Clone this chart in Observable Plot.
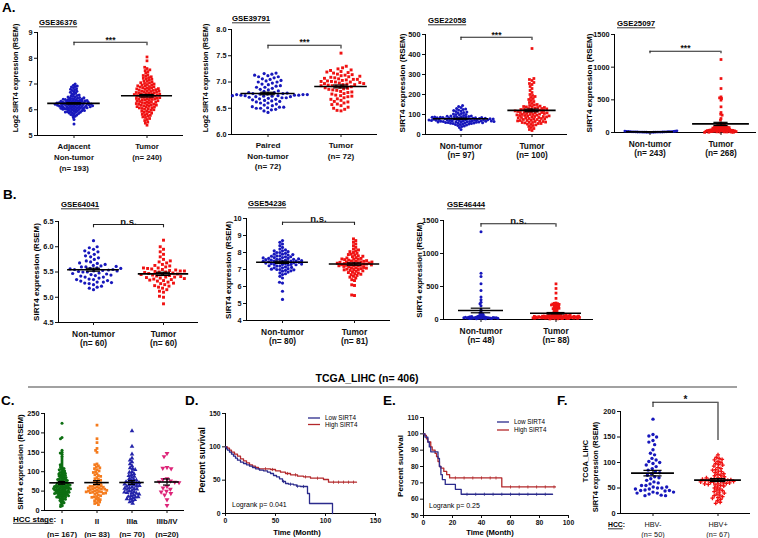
<!DOCTYPE html>
<html><head><meta charset="utf-8">
<script src="https://cdn.jsdelivr.net/npm/d3@7"></script>
<script src="https://cdn.jsdelivr.net/npm/@observablehq/plot@0.6"></script>
<style>
html,body{margin:0;padding:0;background:#fff;}
#fig{position:relative;width:758px;height:538px;overflow:hidden;background:#fff;}
</style></head><body><div id="fig"></div>
<script>
// ---------------- DATA ----------------
// A. GSE36376
const cats36376 = ["Adjacent\nNon-tumor\n(n= 193)", "Tumor\n(n= 240)"];
const ticks36376 = [5, 6, 7, 8, 9];
const gse36376N = [5.45,5.62,5.7,5.75,5.78,5.8,5.82,5.84,5.85,5.87,5.88,5.9,5.9,5.92,5.93,5.95,5.95,5.96,5.98,6.0,6.0,6.01,6.02,6.03,6.04,6.05,6.05,6.06,6.07,6.08,6.09,6.1,6.1,6.11,6.12,6.12,6.13,6.14,6.15,6.15,6.16,6.17,6.18,6.18,6.19,6.2,6.2,6.21,6.22,6.22,6.23,6.24,6.25,6.25,6.26,6.27,6.28,6.28,6.29,6.3,6.3,6.31,6.32,6.33,6.34,6.35,6.35,6.36,6.37,6.38,6.39,6.4,6.4,6.42,6.43,6.44,6.45,6.46,6.48,6.5,6.5,6.52,6.54,6.55,6.57,6.6,6.62,6.65,6.68,6.7,6.72,6.75,6.78,6.8,6.82,6.85,6.88,6.9,6.92,6.95,7.0,6.02,6.08,6.14,6.19,6.24,6.29,6.33,6.12,6.17,6.22,6.27,6.06,6.36,6.41,5.97,5.91,6.47,6.26,6.21,6.16];
const gse36376T = [5.4,5.48,5.52,5.58,5.62,5.66,5.7,5.72,5.75,5.78,5.8,5.82,5.85,5.87,5.9,5.92,5.94,5.96,5.98,6.0,6.02,6.04,6.05,6.07,6.08,6.1,6.11,6.12,6.14,6.15,6.17,6.18,6.19,6.2,6.21,6.22,6.24,6.25,6.26,6.28,6.29,6.3,6.31,6.32,6.34,6.35,6.36,6.38,6.39,6.4,6.41,6.42,6.43,6.44,6.45,6.46,6.47,6.48,6.5,6.51,6.52,6.53,6.54,6.55,6.56,6.57,6.58,6.59,6.6,6.61,6.62,6.63,6.64,6.65,6.66,6.67,6.68,6.7,6.71,6.72,6.73,6.74,6.75,6.76,6.78,6.79,6.8,6.81,6.82,6.84,6.85,6.86,6.88,6.89,6.9,6.92,6.93,6.95,6.96,6.98,7.0,7.02,7.04,7.05,7.07,7.1,7.12,7.15,7.18,7.2,7.22,7.25,7.28,7.3,7.33,7.36,7.42,7.48,7.52,7.55,7.6,7.65,7.9,8.05];
// A. GSE39791
const cats39791 = ["Paired\nNon-tumor\n(n= 72)", "Tumor\n(n= 72)"];
const ticks39791 = [6.0, 6.5, 7.0, 7.5, 8.0];
const gse39791N = [6.42,6.45,6.47,6.48,6.5,6.5,6.51,6.52,6.52,6.53,6.55,6.56,6.58,6.6,6.6,6.62,6.63,6.64,6.65,6.66,6.67,6.68,6.69,6.7,6.7,6.71,6.72,6.72,6.73,6.73,6.74,6.74,6.75,6.75,6.75,6.76,6.76,6.77,6.77,6.78,6.78,6.79,6.8,6.8,6.82,6.83,6.85,6.86,6.88,6.9,6.9,6.92,6.93,6.95,6.96,6.98,7.0,7.0,7.02,7.03,7.05,7.06,7.08,7.1,7.1,7.12,7.13,7.15,7.16,7.17,6.74,6.76];
const gse39791T = [6.45,6.46,6.48,6.5,6.52,6.55,6.58,6.6,6.62,6.65,6.68,6.7,6.72,6.74,6.75,6.77,6.78,6.8,6.82,6.84,6.85,6.87,6.88,6.9,6.91,6.92,6.93,6.94,6.95,6.95,6.96,6.97,6.98,7.0,7.0,7.01,7.02,7.03,7.04,7.05,7.05,7.06,7.07,7.08,7.1,7.12,7.13,7.15,7.17,7.18,7.2,7.22,7.25,7.27,7.3,7.55,6.86,6.89,6.99,7.01,7.09,6.63,6.73,6.57,7.11,6.93,7.14,6.81,6.97,7.19,6.67,7.23];
// A. GSE22058
const cats22058 = ["Non-tumor\n(n= 97)", "Tumor\n(n= 100)"];
const ticks22058 = [0, 100, 200, 300, 400, 500];
const gse22058N = [25,35,40,42,45,48,50,50,52,53,55,55,56,57,58,58,60,60,61,62,62,63,64,65,65,66,67,68,68,69,70,70,71,72,72,73,74,75,75,76,77,78,78,79,80,80,81,82,82,83,84,85,85,86,87,88,89,90,90,92,93,95,97,100,100,102,105,108,110,112,115,118,120,122,125,128,130,135,140,145,59,63,66,71,74,76,79,81,84,86,88,91,70,68,73,77,65];
const gse22058T = [20,25,30,35,40,45,48,50,52,55,58,60,62,65,67,70,72,75,77,80,82,85,87,90,92,95,97,100,100,102,105,107,110,110,112,115,117,120,120,122,125,127,130,132,135,138,140,142,145,148,150,155,160,165,170,175,180,185,190,195,200,210,220,230,240,250,255,260,270,275,280,430,55,60,65,70,75,80,85,90,95,100,105,110,115,120,125,130,135,140,62,78,88,98,108,118,128,68,83,93];
// A. GSE25097
const cats25097 = ["Non-tumor\n(n= 243)", "Tumor\n(n= 268)"];
const ticks25097 = [0, 500, 1000, 1500];
const gse25097N = [2,3,3,4,4,5,5,5,6,6,7,7,7,8,8,9,9,10,10,11,12,12,13,14,15,16,18,20,22,25];
const gse25097T = [1117,826,673,545,530,520,495,393,306,280,265,214,189,138,135,132,130,125,110,100,95,92,90,88,85,82,80,78,75,72,70,68,65,60,58,55,52,50,48,46,45,44,42,40,38,36,35,34,32,30,28,27,26,25,24,22,20,19,18,16,15,14,12,10,9,8,6,5,4,3,2];
// B. GSE64041
const cats64041 = ["Non-tumor\n(n= 60)", "Tumor\n(n= 60)"];
const ticks64041 = [4.5, 5.0, 5.5, 6.0, 6.5];
const gse64041N = [5.15,5.18,5.2,5.22,5.25,5.27,5.28,5.3,5.3,5.32,5.33,5.35,5.36,5.38,5.4,5.4,5.42,5.43,5.45,5.46,5.48,5.5,5.5,5.51,5.52,5.53,5.54,5.55,5.55,5.56,5.57,5.58,5.6,5.6,5.62,5.63,5.65,5.67,5.7,5.72,5.75,5.78,5.8,5.85,5.88,5.9,5.92,5.95,5.98,6.0,6.12,5.44,5.47,5.52,5.57,5.61,5.35,5.29,5.82,5.68];
const gse64041T = [4.87,5.0,5.02,5.1,5.12,5.15,5.18,5.2,5.22,5.25,5.27,5.3,5.32,5.33,5.35,5.36,5.38,5.4,5.4,5.42,5.43,5.44,5.45,5.46,5.47,5.48,5.5,5.5,5.51,5.52,5.53,5.54,5.55,5.56,5.57,5.58,5.6,5.62,5.65,5.68,5.7,5.72,5.75,5.8,5.85,5.9,5.95,6.0,6.13,5.41,5.49,5.34,5.28,5.39,5.52,5.58,5.45,5.37,5.63,5.23];
// B. GSE54236
const cats54236 = ["Non-tumor\n(n= 80)", "Tumor\n(n= 81)"];
const ticks54236 = [4, 5, 6, 7, 8, 9, 10];
const gse54236N = [5.24,5.72,6.2,6.25,6.5,6.6,6.7,6.75,6.8,6.85,6.9,6.95,7.0,7.0,7.05,7.1,7.1,7.15,7.2,7.2,7.25,7.3,7.3,7.3,7.35,7.35,7.4,7.4,7.4,7.45,7.45,7.5,7.5,7.5,7.5,7.55,7.55,7.6,7.6,7.6,7.65,7.65,7.7,7.7,7.75,7.75,7.8,7.8,7.85,7.9,7.9,7.95,8.0,8.0,8.05,8.1,8.1,8.2,8.3,8.4,8.5,8.6,8.7,7.42,7.38,7.48,7.52,7.32,7.28,7.58,7.62,7.22,7.12,7.02,6.92,7.68,7.78,7.88,8.15,6.98];
const gse54236T = [5.47,5.5,6.06,6.1,6.35,6.4,6.5,6.6,6.65,6.7,6.75,6.8,6.85,6.9,6.95,7.0,7.0,7.05,7.1,7.1,7.15,7.2,7.2,7.25,7.25,7.3,7.3,7.3,7.35,7.35,7.4,7.4,7.45,7.45,7.5,7.5,7.55,7.6,7.6,7.65,7.7,7.75,7.8,7.85,7.9,7.95,8.0,8.05,8.1,8.2,8.3,8.4,8.5,8.6,8.7,8.8,7.32,7.28,7.38,7.22,7.42,7.18,7.12,7.48,7.02,6.92,7.58,7.68,6.82,7.08,7.52,7.27,7.37,6.72,7.78,7.88,8.15,6.55,6.98,7.62,7.44];
// B. GSE46444
const cats46444 = ["Non-tumor\n(n= 48)", "Tumor\n(n= 88)"];
const ticks46444 = [0, 500, 1000, 1500];
const gse46444N = [1330,700,650,540,440,340,300,260,240,210,150,120,100,90,80,70,60,55,50,45,40,38,35,32,30,28,26,25,24,22,20,20,18,16,15,14,12,10,30,40,35,25,22,28,33,18,27,45];
const gse46444T = [540,470,400,320,250,245,240,235,230,225,220,215,210,200,190,180,175,170,165,160,150,140,130,120,110,100,95,90,85,80,75,70,65,60,55,50,48,45,42,40,38,36,34,32,30,28,26,25,24,22,20,18,16,15,14,12,10,8,30,35,40,45,50,55,60,25,28,33,38,43,48,53,58,63,68,22,27,32,37,42,47,52,57,62,20,18,26,31];
// C. TCGA by stage
const catsStage = ["I\n(n= 167)", "II\n(n= 83)", "IIIa\n(n= 70)", "IIIb/IV\n(n=20)"];
const ticksStage = [0, 50, 100, 150, 200, 250];
const stageI = [225,188,185,155,150,148,145,140,135,130,125,120,118,115,112,110,108,106,105,104,102,100,98,98,96,95,94,92,91,91,89,88,86,86,85,83,82,81,80,80,78,77,77,75,74,73,73,71,70,70,69,67,66,66,64,63,62,62,60,59,58,58,56,55,55,53,52,51,50,50,48,47,46,45,45,43,42,41,40,40,38,37,36,35,34,33,31,30,29,28,26,24,22,20,18,15,12,10,45,48,50,52,55,58,60,62,65,68,42,47,53,57,63,35,38,44,56,66];
const stageII = [220,185,175,160,155,150,120,118,115,112,110,108,105,102,100,98,95,92,90,88,85,82,80,78,76,74,72,70,68,66,65,64,62,60,58,57,56,55,54,52,50,49,48,47,46,45,44,42,40,38,36,35,34,32,30,28,26,25,22,20,18,15,60,55,50,45,62,58,52,48];
const stageIIIa = [205,165,145,135,130,125,120,115,110,108,105,100,98,95,92,90,88,85,82,80,78,76,75,74,72,70,68,66,65,63,62,60,58,56,55,54,52,50,48,46,45,44,42,40,38,36,35,33,30,28,25,22,18,72,68,64,57,47,30,35];
const stageIIIbIV = [147,139,111,109,108,82,80,76,74,73,72,62,58,55,50,48,44,40,28,13];
// D. overall survival (months, percent)
const kmDLow = [[0,100],[1,97],[2,95],[4,92],[6,89],[8,86],[10,83],[12,80],[15,77],[18,75],[21,73],[24,71],[27,69],[30,67],[34,65],[38,64],[42,62],[45,60],[48,57],[51,55],[54,52],[57,48],[60,45],[63,44],[68,43],[71,41],[75,40.5],[82,30],[84,15],[107,0]];
const kmDHigh = [[0,100],[2,98],[4,95],[6,92],[9,89],[12,86],[15,82],[18,79],[21,76],[24,73],[27,71],[30,69],[33,67],[45,66],[50,64],[55,62],[60,60],[65,58],[72,56],[78,55],[85,53],[98,51],[103,47],[131,47]];
const censDLow = [[58,48],[65,44],[72,41],[78,40.5]];
const censDHigh = [[40,67],[47,66],[62,60],[70,58],[80,55],[92,53],[108,47],[113,47],[118,47],[123,47],[128,47]];
const ticksDx = [0, 50, 100, 150], ticksDy = [0, 50, 100, 150];
// E. survival
const kmELow = [[0,100],[1,98],[3,95],[4,92],[5,89],[10,85],[11,80],[12,75],[13,72],[15,69],[22,66],[26,63],[89,63]];
const kmEHigh = [[0,100],[1,99],[2,97],[3,95],[5,92],[6,90],[8,88],[9,86],[10,83],[11,80],[12,79],[14,77],[16,75],[18,73],[54,67.5],[91,67.5]];
const censELow = [[30,63],[36,63],[42,63],[48,63],[54,63],[60,63],[66,63],[72,63],[78,63],[84,63]];
const censEHigh = [[22,73],[28,73],[34,73],[40,73],[46,73],[50,73],[60,67.5],[66,67.5],[72,67.5],[78,67.5],[84,67.5],[90,67.5]];
const ticksEx = [0, 20, 40, 60, 80, 100], ticksEy = [50, 60, 70, 80, 90, 100, 110];
// F. HBV
const catsHBV = ["HBV-\n(n= 50)", "HBV+\n(n= 67)"];
const ticksHBV = [0, 50, 100, 150, 200];
const hbvNeg = [185,155,152,150,143,140,135,125,118,115,108,105,102,100,98,95,92,88,85,82,80,78,75,72,70,68,65,62,60,58,55,52,50,50,48,46,45,44,42,40,40,38,36,35,35,52,48,55,45,42];
const hbvPos = [115,110,108,106,105,102,100,98,96,95,93,90,88,86,85,83,82,80,78,77,75,74,72,70,69,68,67,66,65,64,63,62,61,60,59,58,57,56,55,54,52,50,48,46,45,43,42,40,38,36,35,33,31,30,28,25,22,20,65,66,64,63,67,62,70,60,58];

// ---------------- STYLE ----------------
const FONT = '"Liberation Sans", Arial, Helvetica, sans-serif';
const BLUE = "#1717bc", RED = "#f01212", GREEN = "#0d6f12", ORANGE = "#f57b1d", BLUE2 = "#2424aa", PINK = "#dd2478";
const LOWC = "#2b2b8c", HIGHC = "#b3282b";
const TRI_DOWN = {draw(ctx, size) { const s = Math.sqrt(size * 4 / Math.sqrt(3)); const h = s * Math.sqrt(3) / 2; ctx.moveTo(-s/2, -h/3); ctx.lineTo(s/2, -h/3); ctx.lineTo(0, 2*h/3); ctx.closePath(); }};
const VTICK = {draw(ctx, size) { const h = Math.sqrt(size / Math.PI); ctx.moveTo(0, -h); ctx.lineTo(0, h); }};

const fig = document.getElementById("fig");
function place(el, x, y) {
  el.style.position = "absolute"; el.style.left = x + "px"; el.style.top = y + "px";
  el.style.maxWidth = "none"; el.style.background = "none"; el.style.overflow = "visible";
  fig.appendChild(el);
}

function dotPanel(p) {
  const ml = 34, mr = 6, mt = 24, mb = 44;
  const W = p.box.R - p.box.L + ml + mr, H = p.box.B - p.box.T + mt + mb;
  const labels = p.groups.map(g => g.label);
  const marks = [
    Plot.ruleY([p.y[0]], {y: d => d, stroke: "#000", strokeWidth: 1}),
    Plot.ruleX([0], {fx: () => labels[0], x: d => d, stroke: "#000", strokeWidth: 1})
  ];
  for (const g of p.groups) {
    marks.push(Plot.dot(g.values, Plot.dodgeX({anchor: "middle", padding: g.pad},
      {fx: () => g.label, y: d => d, r: g.r, fill: g.color, symbol: g.symbol || "circle"})));
  }
  for (const g of p.groups) {
    const fx = () => g.label;
    const m = d3.mean(g.values), s = d3.deviation(g.values) / Math.sqrt(g.values.length);
    marks.push(
      Plot.ruleY([m], {fx, y: d => d, x1: 0.5 - g.mw, x2: 0.5 + g.mw, stroke: "#000", strokeWidth: 1.6}),
      Plot.ruleX([0.5], {fx, x: d => d, y1: m - s, y2: m + s, stroke: "#000", strokeWidth: 1.2}),
      Plot.ruleY([m - s, m + s], {fx, y: d => d, x1: 0.5 - g.cw, x2: 0.5 + g.cw, stroke: "#000", strokeWidth: 1.2})
    );
  }
  if (p.sig) {
    const a = labels[0], b = labels[1], S = p.sig;
    const st = {stroke: "#222", strokeWidth: 1.1};
    marks.push(
      Plot.ruleY([S.y], {fx: () => a, y: d => d, x1: 0.5, x2: 1, ...st}),
      Plot.ruleY([S.y], {fx: () => b, y: d => d, x1: 0, x2: 0.5, ...st}),
      Plot.ruleX([0.5], {fx: () => a, x: d => d, y1: S.y, y2: S.l, ...st}),
      Plot.ruleX([0.5], {fx: () => b, x: d => d, y1: S.y, y2: S.r, ...st}),
      Plot.text([S.text], {fx: () => a, x: 1, y: S.y, text: d => d, lineAnchor: S.anchor, dy: S.dy, fontSize: S.size, fontWeight: "bold"})
    );
  }
  marks.push(Plot.axisFx({anchor: "bottom", label: null, tickSize: 3, tickPadding: p.tickPad,
    fontSize: p.catSize, lineHeight: p.lh, fontWeight: p.catWeight || "bold"}));
  const svg = Plot.plot({
    width: W, height: H, marginLeft: ml, marginRight: mr, marginTop: mt, marginBottom: mb,
    style: {fontFamily: FONT, fontWeight: "bold", fontSize: (p.tickSize || 7.3) + "px", color: "#111", background: "none", overflow: "visible"},
    fx: {domain: labels, padding: 0},
    x: {domain: [0, 1], axis: null},
    y: {domain: p.y, ticks: p.ticks, tickSize: 3, tickPadding: 2, tickFormat: p.fmt, label: null},
    marks
  });
  place(svg, p.box.L - ml, p.box.T - mt);
}

function kmPanel(p) {
  const ml = 30, mr = 12, mt = 10, mb = 22;
  const W = p.box.R - p.box.L + ml + mr, H = p.box.B - p.box.T + mt + mb;
  const svg = Plot.plot({
    width: W, height: H, marginLeft: ml, marginRight: mr, marginTop: mt, marginBottom: mb,
    style: {fontFamily: FONT, fontWeight: "bold", fontSize: "6.8px", color: "#111", background: "none", overflow: "visible"},
    x: {domain: p.x, ticks: p.xt, tickSize: 3, tickPadding: 2, label: null},
    y: {domain: p.y, ticks: p.yt, tickSize: 3, tickPadding: 2, label: null},
    marks: [
      Plot.ruleX([p.x[0]], {x: d => d, stroke: "#000"}),
      Plot.ruleY([p.y[0]], {y: d => d, stroke: "#000"}),
      Plot.line(p.high, {x: d => d[0], y: d => d[1], curve: "step-after", stroke: HIGHC, strokeWidth: 1.3}),
      Plot.line(p.low, {x: d => d[0], y: d => d[1], curve: "step-after", stroke: LOWC, strokeWidth: 1.3}),
      Plot.dot(p.highC, {x: d => d[0], y: d => d[1], symbol: VTICK, r: 1.6, stroke: HIGHC, fill: "none", strokeWidth: 0.8}),
      Plot.dot(p.lowC, {x: d => d[0], y: d => d[1], symbol: VTICK, r: 1.6, stroke: LOWC, fill: "none", strokeWidth: 0.8})
    ]
  });
  place(svg, p.box.L - ml, p.box.T - mt);
}

const f1 = d3.format(".1f"), f0 = d3.format("d");

// ----- Row A -----
dotPanel({box: {L: 37, T: 32, R: 183, B: 135}, y: [5, 9], ticks: ticks36376, fmt: f0, tickPad: 3, catSize: 7.8, lh: 1.4,
  groups: [
    {label: cats36376[0], values: gse36376N, color: BLUE, r: 1.5, pad: -0.85, mw: 0.36, cw: 0.1},
    {label: cats36376[1], values: gse36376T, color: RED, symbol: "square", r: 1.55, pad: -0.45, mw: 0.35, cw: 0.1}],
  sig: {text: "***", y: 8.62, l: 8.49, r: 8.49, size: 8.5, anchor: "middle", dy: -2.5}});
dotPanel({box: {L: 230, T: 29, R: 377, B: 134}, y: [6, 8], ticks: ticks39791, fmt: f1, tickPad: 3, catSize: 8.1, lh: 1.3,
  groups: [
    {label: cats39791[0], values: gse39791N, color: BLUE, r: 1.6, pad: 1.1, mw: 0.37, cw: 0.1},
    {label: cats39791[1], values: gse39791T, color: RED, symbol: "square", r: 1.65, pad: 0.7, mw: 0.36, cw: 0.1}],
  sig: {text: "***", y: 7.70, l: 7.63, r: 7.63, size: 8.5, anchor: "middle", dy: -2.5}});
dotPanel({box: {L: 424, T: 34, R: 567, B: 134}, y: [0, 500], ticks: ticks22058, fmt: f0, tickPad: 5, catSize: 8.3, lh: 1.12,
  groups: [
    {label: cats22058[0], values: gse22058N, color: BLUE, r: 1.5, pad: -0.45, mw: 0.39, cw: 0.1},
    {label: cats22058[1], values: gse22058T, color: RED, symbol: "square", r: 1.55, pad: -0.35, mw: 0.34, cw: 0.1}],
  sig: {text: "***", y: 486, l: 470, r: 470, size: 8.5, anchor: "middle", dy: -2.5}});
dotPanel({box: {L: 613, T: 34, R: 756, B: 132}, y: [0, 1500], ticks: ticks25097, fmt: f0, tickPad: 5, catSize: 8.3, lh: 1.1,
  groups: [
    {label: cats25097[0], values: gse25097N, color: BLUE, r: 1.4, pad: -1.0, mw: 0.33, cw: 0.1},
    {label: cats25097[1], values: gse25097T, color: RED, symbol: "square", r: 1.55, pad: -1.38, mw: 0.4, cw: 0.1}],
  sig: {text: "***", y: 1244, l: 1204, r: 1204, size: 8.5, anchor: "middle", dy: -2.5}});

// ----- Row B -----
dotPanel({box: {L: 58, T: 221, R: 198, B: 322}, y: [4.5, 6.5], ticks: ticks64041, fmt: f1, tickPad: 5, catSize: 8.4, lh: 1.05,
  groups: [
    {label: cats64041[0], values: gse64041N, color: BLUE, r: 1.6, pad: 1.25, mw: 0.37, cw: 0.1},
    {label: cats64041[1], values: gse64041T, color: RED, symbol: "square", r: 1.65, pad: 0.85, mw: 0.36, cw: 0.1}],
  sig: {text: "n.s.", y: 6.44, l: 6.375, r: 6.375, size: 9.5, anchor: "bottom", dy: 0}});
dotPanel({box: {L: 246, T: 218, R: 390, B: 320}, y: [4, 10], ticks: ticks54236, fmt: f0, tickPad: 5, catSize: 8.4, lh: 1.05,
  groups: [
    {label: cats54236[0], values: gse54236N, color: BLUE, r: 1.6, pad: -0.1, mw: 0.36, cw: 0.1},
    {label: cats54236[1], values: gse54236T, color: RED, symbol: "square", r: 1.65, pad: -0.45, mw: 0.35, cw: 0.1}],
  sig: {text: "n.s.", y: 9.78, l: 9.59, r: 9.59, size: 9.5, anchor: "bottom", dy: 0}});
dotPanel({box: {L: 442, T: 220, R: 593, B: 319}, y: [0, 1500], ticks: ticks46444, fmt: f0, tickPad: 5, catSize: 8.4, lh: 1.05,
  groups: [
    {label: cats46444[0], values: gse46444N, color: BLUE, r: 1.5, pad: -1.32, mw: 0.3, cw: 0.13},
    {label: cats46444[1], values: gse46444T, color: RED, symbol: "square", r: 1.55, pad: -1.42, mw: 0.34, cw: 0.12}],
  sig: {text: "n.s.", y: 1450, l: 1399, r: 1399, size: 9.5, anchor: "bottom", dy: 0}});

// ----- Row C-F -----
dotPanel({box: {L: 43, T: 413, R: 185, B: 510}, y: [0, 250], ticks: ticksStage, fmt: f0, tickPad: 2, catSize: 7.9, lh: 1.6,
  groups: [
    {label: catsStage[0], values: stageI, color: GREEN, r: 1.5, pad: -1.08, mw: 0.35, cw: 0.1},
    {label: catsStage[1], values: stageII, color: ORANGE, symbol: "square", r: 1.55, pad: -0.7, mw: 0.35, cw: 0.1},
    {label: catsStage[2], values: stageIIIa, color: BLUE2, symbol: "triangle", r: 1.7, pad: -0.66, mw: 0.35, cw: 0.1},
    {label: catsStage[3], values: stageIIIbIV, color: PINK, symbol: TRI_DOWN, r: 1.8, pad: 0.7, mw: 0.35, cw: 0.1}]});
kmPanel({box: {L: 225, T: 413, R: 375, B: 513}, x: [0, 150], y: [0, 150], xt: ticksDx, yt: ticksDy,
  low: kmDLow, high: kmDHigh, lowC: censDLow, highC: censDHigh});
kmPanel({box: {L: 423, T: 417, R: 568, B: 515}, x: [0, 100], y: [50, 110], xt: ticksEx, yt: ticksEy,
  low: kmELow, high: kmEHigh, lowC: censELow, highC: censEHigh});
dotPanel({box: {L: 620, T: 411, R: 750, B: 513}, y: [0, 200], ticks: ticksHBV, fmt: f0, tickPad: 3, catSize: 7.3, lh: 1.38, catWeight: "normal",
  groups: [
    {label: catsHBV[0], values: hbvNeg, color: BLUE, r: 1.7, pad: 1.0, mw: 0.33, cw: 0.14},
    {label: catsHBV[1], values: hbvPos, color: RED, symbol: "cross", r: 1.7, pad: -0.3, mw: 0.36, cw: 0.12}],
  sig: {text: "*", y: 218, l: 208, r: 143, size: 10, anchor: "middle", dy: -3}});

// ---------------- TEXT OVERLAY ----------------
const ov = d3.select(fig).append("svg").attr("width", 758).attr("height", 538)
  .style("position", "absolute").style("left", "0px").style("top", "0px")
  .attr("font-family", FONT);
function label(s, x, y, o = {}) {
  const t = ov.append("text").attr("x", x).attr("y", y).attr("font-size", o.size || 8)
    .attr("font-weight", o.weight || "bold").attr("text-anchor", o.anchor || "start")
    .attr("fill", o.color || "#000").text(s);
  const len = t.node().getComputedTextLength();
  if (o.underline) ov.append("line").attr("x1", x).attr("x2", x + len).attr("y1", y + 1.8).attr("y2", y + 1.8)
    .attr("stroke", "#000").attr("stroke-width", 0.8);
  return len;
}
function vlabel(s, cx, cy, size) {
  ov.append("text").attr("transform", `translate(${cx},${cy}) rotate(-90)`).attr("text-anchor", "middle")
    .attr("dominant-baseline", "central").attr("font-size", size).attr("font-weight", "bold").attr("fill", "#000").text(s);
}
// panel letters
[["A.", 2, 12], ["B.", 3, 199], ["C.", 1, 405], ["D.", 185, 405], ["E.", 383, 405], ["F.", 557, 405]]
  .forEach(([s, x, y]) => label(s, x, y, {size: 13.5}));
// dataset titles
[["GSE36376", 39, 25], ["GSE39791", 232, 21], ["GSE22058", 428, 23], ["GSE25097", 617, 26],
 ["GSE64041", 61, 207], ["GSE54236", 248, 206], ["GSE46444", 447, 207]]
  .forEach(([s, x, y]) => label(s, x, y, {size: 7.8, underline: true}));
// y axis titles
const yl = "SIRT4 expression (RSEM)";
[["Log2 " + yl, 15, 78, 7.3], ["Log2 " + yl, 205, 78, 7.3], [yl, 402, 83, 8.1], [yl, 589, 83, 8.1],
 [yl, 36, 272, 8], [yl, 228, 270, 8], [yl, 419, 270, 7.8], [yl, 20, 462, 7.8],
 ["Percent survival", 202, 460, 8.5], ["Percent survival", 400, 466, 8],
 ["TCGA_LIHC", 585, 461, 7.4], [yl, 595, 467, 7.4]]
  .forEach(([s, x, y, z]) => vlabel(s, x, y, z));
// TCGA header
label("TCGA_LIHC (n= 406)", 367, 382, {size: 10.5, anchor: "middle"});
ov.append("line").attr("x1", 28).attr("x2", 737).attr("y1", 387).attr("y2", 387).attr("stroke", "#444").attr("stroke-width", 1.2);
// HCC stage labels
const l1 = label("HCC stage", 13, 521.5, {size: 8, underline: true});
label(":", 13 + l1, 521.5, {size: 8});
const l2 = label("HCC", 608, 527, {size: 6.8, underline: true});
label(":", 608 + l2, 527, {size: 6.8});
// KM axis titles
label("Time (Month)", 297, 535, {size: 7.6, anchor: "middle"});
label("Time (Month)", 490, 535, {size: 7.6, anchor: "middle"});
// KM legends
function legend(x, y, color, s) {
  ov.append("line").attr("x1", x).attr("x2", x + 12).attr("y1", y).attr("y2", y).attr("stroke", color).attr("stroke-width", 1.3);
  label(s, x + 17, y + 2.2, {size: 6.3, weight: "normal"});
}
legend(308, 418, LOWC, "Low SIRT4"); legend(308, 424.5, HIGHC, "High SIRT4");
legend(497, 422, LOWC, "Low SIRT4"); legend(497, 430, HIGHC, "High SIRT4");
label("Logrank p= 0.041", 232, 507, {size: 7, weight: "normal"});
label("Logrank p= 0.25", 429, 508, {size: 7, weight: "normal"});
</script></body></html>
